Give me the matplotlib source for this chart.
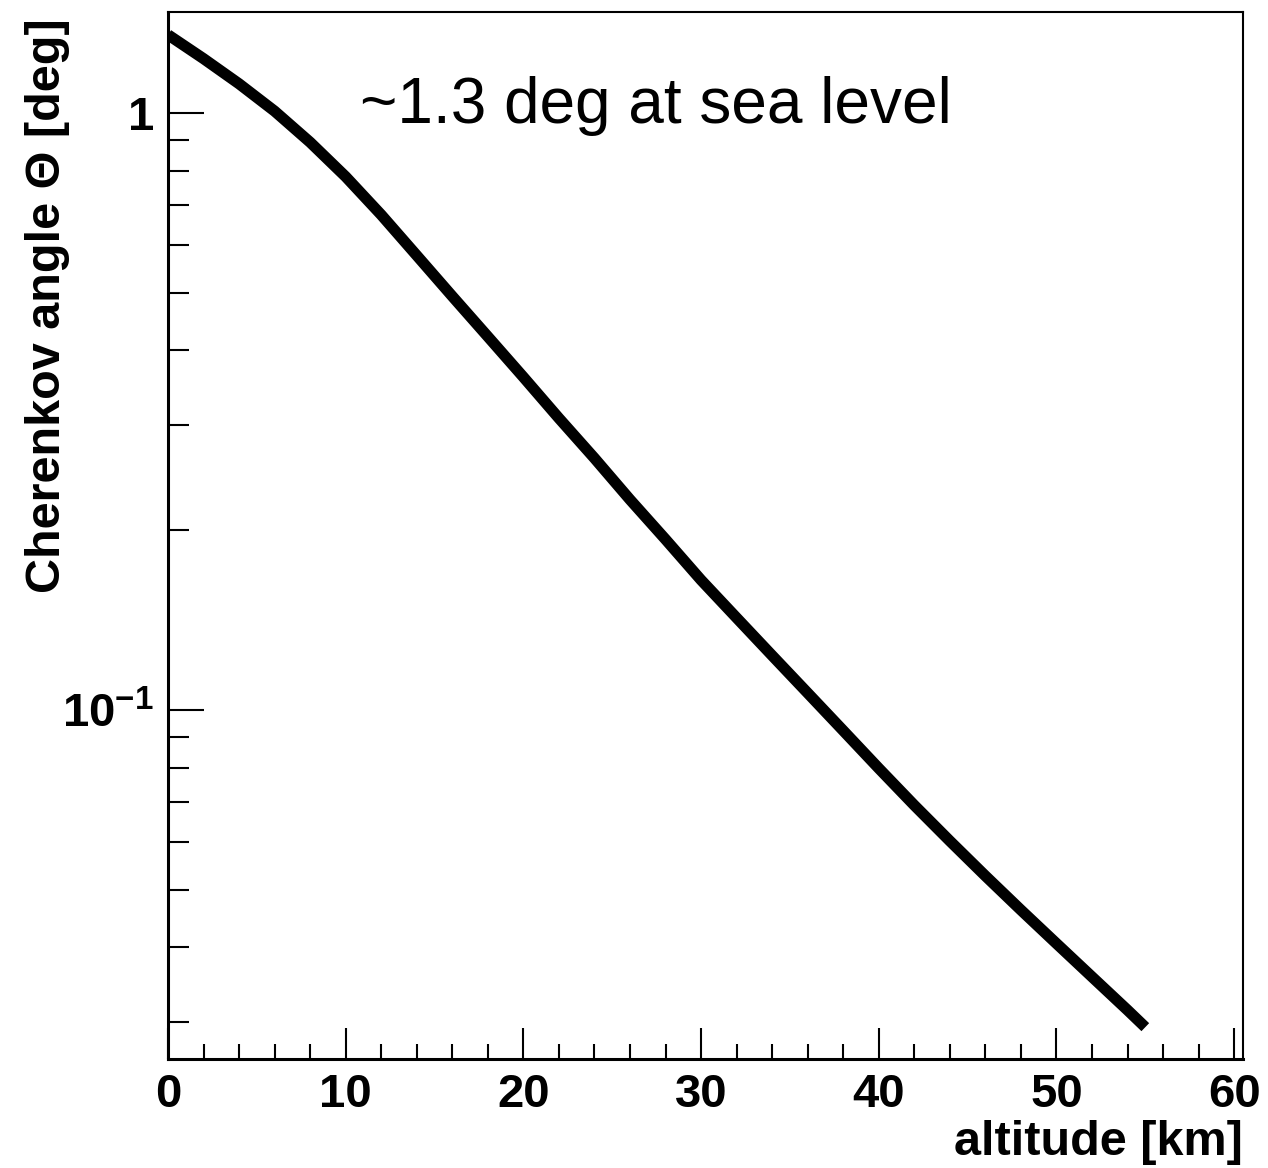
import matplotlib
matplotlib.use("Agg")
import matplotlib.pyplot as plt
from matplotlib.ticker import LogLocator, NullFormatter, FixedLocator, MultipleLocator

plt.rcParams['font.family'] = ['Liberation Sans', 'DejaVu Sans']
plt.rcParams['mathtext.fontset'] = 'custom'
plt.rcParams['mathtext.rm'] = 'Liberation Sans:bold'
plt.rcParams['mathtext.bf'] = 'Liberation Sans:bold'

# Cherenkov angle vs altitude
altitude_km = [0, 2, 4, 6, 8, 10, 12, 14, 16, 18, 20, 22, 24, 26, 28,
               30, 32, 34, 36, 38, 40, 42, 44, 46, 48, 50, 52, 54, 55]
angle_deg = [1.352, 1.233, 1.119, 1.007, 0.893, 0.782, 0.675, 0.577, 0.493,
             0.422, 0.361, 0.308, 0.264, 0.225, 0.193, 0.165, 0.1426, 0.1233,
             0.1067, 0.0923, 0.0798, 0.0692, 0.0603, 0.0527, 0.0462, 0.0406,
             0.0357, 0.0314, 0.0294]

y_major = [0.1, 1]
y_major_labels = [r'$\mathbf{10^{-1}}$', '1']
x_major = [0, 10, 20, 30, 40, 50, 60]

fig = plt.figure(figsize=(12.68, 11.68), dpi=100)
ax = fig.add_axes([0.1325, 0.0933, 0.8478, 0.8964])

ax.plot(altitude_km, angle_deg, color='black', linewidth=8, solid_capstyle='butt',
        solid_joinstyle='round')

ax.set_yscale('log')
ax.set_xlim(0, 60.5)
ax.set_ylim(0.026, 1.476)

ax.yaxis.set_major_locator(FixedLocator(y_major))
ax.set_yticklabels(y_major_labels)
ax.yaxis.set_minor_locator(LogLocator(base=10, subs=[2, 3, 4, 5, 6, 7, 8, 9]))
ax.yaxis.set_minor_formatter(NullFormatter())

ax.xaxis.set_major_locator(FixedLocator(x_major))
ax.xaxis.set_minor_locator(MultipleLocator(2))

ax.tick_params(axis='y', which='major', direction='in', length=26, width=1.5,
               labelsize=34, pad=10)
ax.tick_params(axis='y', which='minor', direction='in', length=15, width=1.5)
ax.tick_params(axis='x', which='major', direction='in', length=22, width=1.5,
               labelsize=34, pad=10)
ax.tick_params(axis='x', which='minor', direction='in', length=11, width=1.5)
for lab in ax.get_xticklabels() + ax.get_yticklabels():
    lab.set_fontweight('bold')

for side in ['left', 'bottom']:
    ax.spines[side].set_linewidth(2.2)
for side in ['top', 'right']:
    ax.spines[side].set_linewidth(1.5)

ax.set_xlabel('altitude [km]', fontsize=35, fontweight='bold', loc='right', labelpad=2)
ax.set_ylabel('Cherenkov angle Θ [deg]', fontsize=35, fontweight='bold', loc='top')
ax.yaxis.set_label_coords(-0.091, 0.994)

ax.text(0.179, 0.894, '~1.3 deg at sea level', transform=ax.transAxes,
        fontsize=46, ha='left', va='baseline')

fig.savefig('out.png', dpi=100)
